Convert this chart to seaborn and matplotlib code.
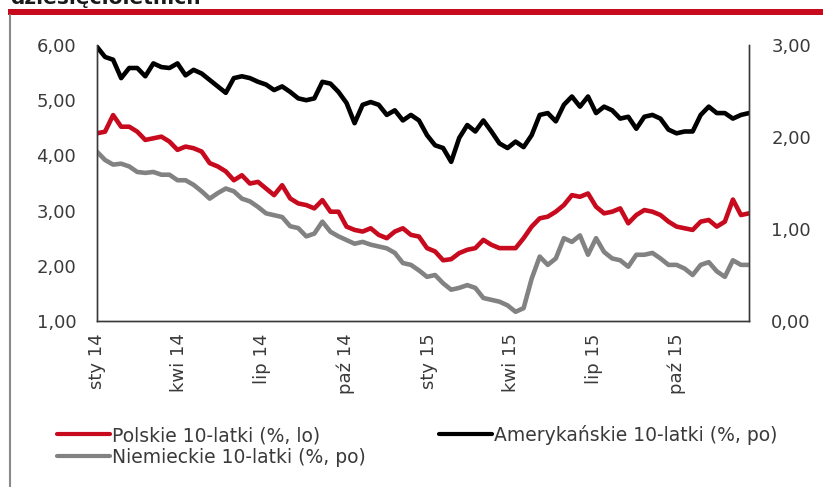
import numpy as np
import pandas as pd
import matplotlib
matplotlib.use("Agg")
import matplotlib.pyplot as plt
import matplotlib.dates as mdates
from matplotlib.patches import Rectangle
from matplotlib.lines import Line2D
import seaborn as sns

# ---- data ----
dates = pd.date_range("2014-01-01", "2015-12-19", periods=82)

pl_10y = [4.40, 4.43, 4.73, 4.52, 4.52, 4.43, 4.28, 4.31, 4.34, 4.25, 4.10, 4.16, 4.13, 4.07, 3.86, 3.80, 3.71, 3.55, 3.64, 3.49, 3.52, 3.40,
          3.28, 3.46, 3.22, 3.13, 3.10, 3.04, 3.19, 2.98, 2.98, 2.71, 2.65, 2.62, 2.68, 2.56, 2.50, 2.62, 2.68, 2.56, 2.53, 2.32,
          2.26, 2.10, 2.12, 2.23, 2.29, 2.32, 2.47, 2.38, 2.32, 2.32, 2.32, 2.50, 2.71, 2.86, 2.89, 2.98, 3.10, 3.28, 3.25, 3.31, 3.07,
          2.95, 2.98, 3.04, 2.77, 2.92, 3.01, 2.98, 2.92, 2.80, 2.71, 2.68, 2.65, 2.80, 2.83, 2.71, 2.80, 3.20, 2.92, 2.95]

us_10y = [2.98, 2.87, 2.84, 2.64, 2.75, 2.75, 2.66, 2.80, 2.76, 2.75, 2.80, 2.67, 2.73, 2.69, 2.62, 2.55, 2.48, 2.64, 2.66, 2.64, 2.60, 2.57,
          2.51, 2.55, 2.49, 2.42, 2.40, 2.42, 2.60, 2.58, 2.49, 2.37, 2.15, 2.35, 2.38, 2.35, 2.24, 2.29, 2.18, 2.24, 2.18, 2.02,
          1.91, 1.88, 1.73, 1.99, 2.13, 2.06, 2.18, 2.06, 1.93, 1.88, 1.95, 1.89, 2.02, 2.24, 2.26, 2.17, 2.35, 2.44, 2.33, 2.44, 2.26,
          2.33, 2.29, 2.20, 2.22, 2.09, 2.22, 2.24, 2.20, 2.08, 2.04, 2.06, 2.06, 2.24, 2.33, 2.26, 2.26, 2.20, 2.24, 2.26]

de_10y = [1.84, 1.75, 1.70, 1.71, 1.68, 1.62, 1.61, 1.62, 1.59, 1.59, 1.53, 1.53, 1.48, 1.41, 1.33, 1.39, 1.44, 1.41, 1.33, 1.30, 1.24, 1.17,
          1.15, 1.13, 1.03, 1.01, 0.92, 0.95, 1.08, 0.97, 0.92, 0.88, 0.84, 0.86, 0.83, 0.81, 0.79, 0.74, 0.63, 0.61, 0.55, 0.48,
          0.50, 0.41, 0.34, 0.36, 0.39, 0.36, 0.25, 0.23, 0.21, 0.17, 0.10, 0.14, 0.46, 0.70, 0.61, 0.68, 0.90, 0.86, 0.93, 0.72, 0.90,
          0.75, 0.68, 0.66, 0.59, 0.72, 0.72, 0.74, 0.68, 0.61, 0.61, 0.57, 0.50, 0.61, 0.64, 0.54, 0.48, 0.66, 0.61, 0.61]

labels = ["Polskie 10-latki (%, lo)", "Niemieckie 10-latki (%, po)", "Amerykańskie 10-latki (%, po)"]
tick_dates = ["2014-01-01", "2014-04-01", "2014-07-01", "2014-10-01",
              "2015-01-01", "2015-04-01", "2015-07-01", "2015-10-01"]
tick_labels = ["sty 14", "kwi 14", "lip 14", "paź 14", "sty 15", "kwi 15", "lip 15", "paź 15"]
left_ticks = [1, 2, 3, 4, 5, 6]
right_ticks = [0, 1, 2, 3]

title_tail = "dziesięcioletnich"

# ---- style ----
sns.set_theme(style="white")
plt.rcParams["font.family"] = ["DejaVu Sans"]

RED = "#C80A1E"
GRAY = "#828282"
BLACK = "#000000"
TXT = "#3a3a3a"
SPINE = "#3a3a3a"

W, H = 823, 487
fig = plt.figure(figsize=(W / 100, H / 100), dpi=100)
ax = fig.add_axes([97 / W, 1 - 321 / H, (749 - 97) / W, (321 - 45) / H])
ax2 = ax.twinx()

df = pd.DataFrame({"date": dates, "pl": pl_10y, "us": us_10y, "de": de_10y})

sns.lineplot(data=df, x="date", y="pl", ax=ax, color=RED, lw=3.3)
sns.lineplot(data=df, x="date", y="de", ax=ax2, color=GRAY, lw=3.3)
sns.lineplot(data=df, x="date", y="us", ax=ax2, color=BLACK, lw=3.3)

ax.set_xlim(dates[0], dates[-1])
ax.set_ylim(1, 6)
ax2.set_ylim(0, 3)

ax.set_yticks(left_ticks)
ax.set_yticklabels([f"{v:.2f}".replace(".", ",") for v in left_ticks])
ax2.set_yticks(right_ticks)
ax2.set_yticklabels([f"{v:.2f}".replace(".", ",") for v in right_ticks])

ax.set_xticks(pd.to_datetime(tick_dates))
ax.set_xticklabels(tick_labels, rotation=90)

for a in (ax, ax2):
    a.set_xlabel("")
    a.set_ylabel("")
    a.grid(False)
    a.set_facecolor("none")
    for s in a.spines.values():
        s.set_color(SPINE)
        s.set_linewidth(1.0)
    a.spines["top"].set_visible(False)

ax.tick_params(axis="y", length=0, pad=15, labelsize=13, labelcolor=TXT)
ax.tick_params(axis="x", length=0, pad=9, labelsize=13, labelcolor=TXT)
ax2.tick_params(axis="y", length=0, pad=16, labelsize=13, labelcolor=TXT)

# legend
handles = [Line2D([], [], color=RED, lw=3),
           Line2D([], [], color=GRAY, lw=3),
           Line2D([], [], color=BLACK, lw=3)]
leg = fig.legend(handles, labels, loc="upper left", bbox_to_anchor=(57 / W, 1 - 425 / H),
                 ncol=2, frameon=False, fontsize=13.5, handlelength=2.8, handletextpad=0.15,
                 columnspacing=3.9, labelspacing=0.15, borderpad=0, borderaxespad=0)
for t in leg.get_texts():
    t.set_color(TXT)

# decorations: red header bar, gray side rule, cut-off title
fig.add_artist(Rectangle((8 / W, 1 - 15 / H), (W - 8) / W, 6 / H, transform=fig.transFigure,
                         color=RED, lw=0))
fig.add_artist(Line2D([10 / W, 10 / W], [0, 1 - 15 / H], transform=fig.transFigure,
                      color="#8a8a8a", lw=1.5))
fig.text(10 / W, 1 - 4 / H, title_tail, fontsize=14.5, fontweight="bold", color="#1a1a1a",
         va="baseline", ha="left")

fig.savefig("out.png", dpi=100)
